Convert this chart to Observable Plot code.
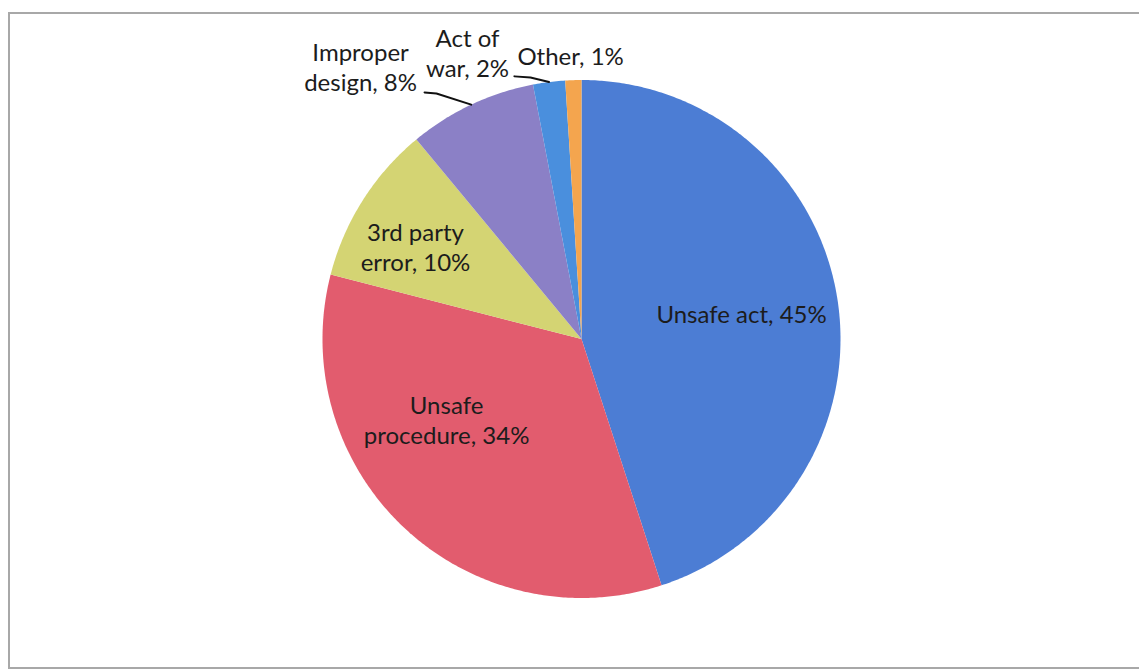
<!DOCTYPE html>
<html>
<head>
<meta charset="utf-8">
<script src="https://cdn.jsdelivr.net/npm/d3@7"></script>
<script src="https://cdn.jsdelivr.net/npm/@observablehq/plot@0.6"></script>
<style>
  html, body { margin: 0; padding: 0; background: #ffffff; }
  #wrap { position: relative; width: 1139px; height: 669px; overflow: hidden; }
  #border { position: absolute; left: 8px; top: 12px; width: 1140px; height: 653px;
            border: 2px solid #a8a8a8; border-right: none; }
  #chart { position: absolute; left: 0; top: 0; }
</style>
</head>
<body>
<div id="wrap"><div id="border"></div><div id="chart"></div></div>
<script>
// ---- data ----
const categories = ["Unsafe act", "Unsafe procedure", "3rd party error", "Improper design", "Act of war", "Other"];
const labelNames = ["Unsafe act", "Unsafe\nprocedure", "3rd party\nerror", "Improper\ndesign", "Act of\nwar", "Other"];
const percents = [45, 34, 10, 8, 2, 1];
const sliceColors = ["#4c7dd4", "#e25c6e", "#d4d473", "#8b80c6", "#4a8fdd", "#f4a54e"];

// ---- layout (pie in pixels, labels in radius units) ----
const cx = 581, cy = 338.5, R = 259;
const labelPos = [[0.618, 0.100], [-0.521, -0.311], [-0.641, 0.357], [-0.853, 1.052], [-0.440, 1.106], [-0.042, 1.095]];
const leaderStart = {3: [[-0.606, 0.952], [-0.560, 0.948]], 4: [[-0.259, 1.014], [-0.197, 1.010]]};

const arcs = d3.pie().sort(null).value(d => d)(percents);

// slice polygons
const slicePts = [];
arcs.forEach((a, i) => {
  slicePts.push({name: categories[i], x: 0, y: 0});
  const n = Math.max(4, Math.ceil((a.endAngle - a.startAngle) / (Math.PI / 360)));
  for (let k = 0; k <= n; k++) {
    const t = a.startAngle + (a.endAngle - a.startAngle) * k / n;
    slicePts.push({name: categories[i], x: Math.sin(t), y: Math.cos(t)});
  }
});

// labels
const labels = categories.map((c, i) => ({
  text: labelNames[i] + ", " + percents[i] + "%",
  x: labelPos[i][0], y: labelPos[i][1]
}));

// leader lines
const leaderPts = [];
Object.keys(leaderStart).forEach(k => {
  const i = +k, a = arcs[i], mid = (a.startAngle + a.endAngle) / 2;
  leaderStart[k].forEach(p => leaderPts.push({id: i, x: p[0], y: p[1]}));
  leaderPts.push({id: i, x: Math.sin(mid), y: Math.cos(mid)});
});

const chart = Plot.plot({
  width: 1139,
  height: 669,
  margin: 0,
  style: {background: "transparent", overflow: "visible"},
  x: {domain: [-1, 1], range: [cx - R, cx + R], axis: null},
  y: {domain: [-1, 1], range: [cy + R, cy - R], axis: null},
  color: {domain: categories, range: sliceColors},
  marks: [
    Plot.line(slicePts, {x: "x", y: "y", z: "name", fill: "name", stroke: "none", curve: "linear-closed"}),
    Plot.line(leaderPts, {x: "x", y: "y", z: "id", stroke: "#111111", strokeWidth: 2}),
    Plot.text(labels, {x: "x", y: "y", text: "text", fill: "#1c1c1c", fontSize: 24,
                       fontFamily: "Lato", lineHeight: 1.25, textAnchor: "middle"})
  ]
});
document.getElementById("chart").appendChild(chart);
</script>
</body>
</html>
